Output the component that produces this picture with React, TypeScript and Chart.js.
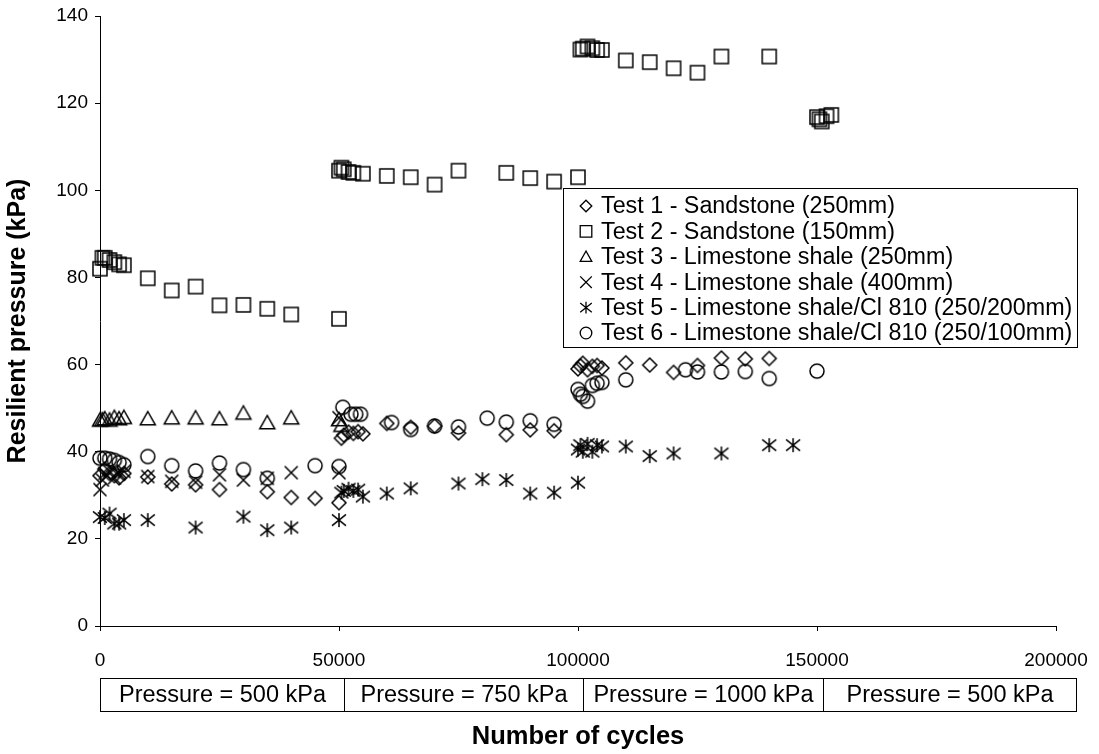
import { useEffect, useRef } from 'react';
import { Chart, registerables } from 'chart.js';

Chart.register(...registerables);

const FONT = "'Liberation Sans', Arial, Helvetica, sans-serif";

// ---------- data ----------
const seriesLabels = [
  'Test 1 - Sandstone (250mm)',
  'Test 2 - Sandstone (150mm)',
  'Test 3 - Limestone shale (250mm)',
  'Test 4 - Limestone shale (400mm)',
  'Test 5 - Limestone shale/Cl 810 (250/200mm)',
  'Test 6 - Limestone shale/Cl 810 (250/100mm)',
];

const x1 = [0, 1000, 2000, 3000, 4000, 5000, 10000, 15000, 20000, 25000, 35000, 40000, 45000, 50000, 50500, 51000, 52000, 53000, 54000, 55000, 60000, 65000, 70000, 75000, 85000, 90000, 95000, 100000, 100500, 101000, 102000, 103000, 104000, 105000, 110000, 115000, 120000, 125000, 130000, 135000, 140000];
const y1 = [34.5, 36, 35, 34.5, 34, 35, 34.2, 32.6, 32.4, 31.3, 30.8, 29.5, 29.3, 28.3, 43.1, 43.8, 44.5, 44.2, 44.6, 44.1, 46.5, 45.6, 45.9, 44.3, 43.9, 45, 44.8, 59, 59.7, 60.3, 58.8, 59.6, 59.8, 59.2, 60.4, 59.9, 58.2, 59.8, 61.5, 61.3, 61.4];

const x2 = [0, 500, 1000, 2000, 3000, 4000, 5000, 10000, 15000, 20000, 25000, 30000, 35000, 40000, 50000, 50000, 50500, 51000, 52000, 53000, 55000, 60000, 65000, 70000, 75000, 85000, 90000, 95000, 100000, 100500, 101000, 102000, 103000, 104000, 105000, 110000, 115000, 120000, 125000, 130000, 140000, 150000, 150500, 151000, 152000, 153000];
const y2 = [82, 84.5, 84.5, 84, 83.5, 83, 82.8, 79.8, 77, 77.9, 73.6, 73.7, 72.8, 71.5, 70.5, 104.5, 105.2, 104.8, 104.2, 104, 103.8, 103.3, 103, 101.3, 104.5, 104, 102.8, 102, 103, 132.3, 132.5, 133, 132.6, 132.2, 132.2, 129.8, 129.4, 128, 127, 130.7, 130.7, 116.8, 116.3, 115.8, 117, 117.3];

const x3 = [0, 500, 1000, 2000, 3000, 4000, 5000, 10000, 15000, 20000, 25000, 30000, 35000, 40000, 50000, 50500];
const y3 = [47.2, 47.3, 47.5, 47.2, 47.8, 47.5, 47.8, 47.5, 47.7, 47.7, 47.5, 48.8, 46.6, 47.7, 47.3, 46];

const x4 = [0, 500, 1000, 2000, 3000, 4000, 5000, 10000, 15000, 20000, 25000, 30000, 35000, 40000, 50000, 50000];
const y4 = [31.3, 33.5, 35, 35.5, 34, 35, 35.5, 34.3, 33.2, 33, 34.7, 33.5, 33.9, 35.2, 35.2, 47.8];

const x5 = [0, 1000, 2000, 3000, 4000, 5000, 10000, 20000, 30000, 35000, 40000, 50000, 50500, 51000, 52000, 53000, 54000, 55000, 60000, 65000, 75000, 80000, 85000, 90000, 95000, 100000, 100000, 100500, 101000, 102000, 103000, 104000, 105000, 110000, 115000, 120000, 130000, 140000, 145000];
const y5 = [25, 24.8, 25.8, 23.5, 23.5, 24.3, 24.3, 22.6, 25.1, 22.0, 22.6, 24.3, 30.6, 31, 31.5, 31, 31.3, 29.7, 30.4, 31.6, 32.7, 33.7, 33.5, 30.4, 30.6, 32.9, 40.5, 41.5, 40, 41.8, 40, 41.5, 41.2, 41.2, 39, 39.6, 39.6, 41.5, 41.5];

const x6 = [0, 1000, 2000, 3000, 4000, 5000, 10000, 15000, 20000, 25000, 30000, 35000, 45000, 50000, 50800, 52500, 53500, 54500, 61000, 65000, 70000, 75000, 81000, 85000, 90000, 95000, 100000, 100500, 101000, 102000, 103000, 104000, 105000, 110000, 122500, 125000, 130000, 135000, 140000, 150000];
const y6 = [38.5, 38.5, 38.3, 38, 37.5, 37, 38.9, 36.8, 35.6, 37.4, 35.9, 33.9, 36.8, 36.6, 50.2, 48.6, 48.6, 48.6, 46.7, 45.1, 45.9, 45.7, 47.7, 46.8, 47.1, 46.3, 54.3, 53.2, 52.7, 51.6, 55.2, 55.7, 55.9, 56.5, 58.8, 58.3, 58.3, 58.4, 56.8, 58.5];

const xSeries = [x1, x2, x3, x4, x5, x6];
const ySeries = [y1, y2, y3, y4, y5, y6];

const xMin = 0;
const xMax = 200000;
const xStep = 50000;
const yMin = 0;
const yMax = 140;
const yStep = 20;

const bandLabels = ['Pressure = 500 kPa', 'Pressure = 750 kPa', 'Pressure = 1000 kPa', 'Pressure = 500 kPa'];
const bandEdges = [0, 51000, 101000, 151300, 204200];

const xTitle = 'Number of cycles';
const yTitle = 'Resilient pressure (kPa)';

// ---------- symbols ----------
type Kind = 'diamond' | 'square' | 'triangle' | 'cross' | 'asterisk' | 'circle';
const kinds: Kind[] = ['diamond', 'square', 'triangle', 'cross', 'asterisk', 'circle'];
const markerSize = [7, 7, 7.5, 6.5, 7, 7];

function drawSymbol(ctx: CanvasRenderingContext2D, kind: Kind, cx: number, cy: number, r: number) {
  ctx.beginPath();
  switch (kind) {
    case 'diamond':
      ctx.moveTo(cx, cy - r);
      ctx.lineTo(cx + r, cy);
      ctx.lineTo(cx, cy + r);
      ctx.lineTo(cx - r, cy);
      ctx.closePath();
      break;
    case 'square':
      ctx.rect(cx - r, cy - r, 2 * r, 2 * r);
      break;
    case 'triangle':
      ctx.moveTo(cx, cy - r);
      ctx.lineTo(cx + r, cy + r * 0.78);
      ctx.lineTo(cx - r, cy + r * 0.78);
      ctx.closePath();
      break;
    case 'cross':
      ctx.moveTo(cx - r, cy - r);
      ctx.lineTo(cx + r, cy + r);
      ctx.moveTo(cx - r, cy + r);
      ctx.lineTo(cx + r, cy - r);
      break;
    case 'asterisk':
      ctx.moveTo(cx - r, cy - r * 0.8);
      ctx.lineTo(cx + r, cy + r * 0.8);
      ctx.moveTo(cx - r, cy + r * 0.8);
      ctx.lineTo(cx + r, cy - r * 0.8);
      ctx.moveTo(cx, cy - r);
      ctx.lineTo(cx, cy + r);
      break;
    case 'circle':
      ctx.arc(cx, cy, r, 0, Math.PI * 2);
      break;
  }
  ctx.stroke();
}

function makeMarker(kind: Kind, r: number): HTMLCanvasElement {
  const c = document.createElement('canvas');
  c.width = 20;
  c.height = 20;
  const g = c.getContext('2d')!;
  g.strokeStyle = '#000';
  g.lineWidth = 1.5;
  drawSymbol(g, kind, 10, 10, r);
  return c;
}

const overlayPlugin = {
  id: 'overlay',
  afterDraw(chart: any) {
    const ctx: CanvasRenderingContext2D = chart.ctx;
    const xs = chart.scales.x;
    ctx.save();
    ctx.strokeStyle = '#000';
    ctx.lineWidth = 1;
    ctx.fillStyle = '#000';
    ctx.font = `23.5px ${FONT}`;
    ctx.textAlign = 'center';
    ctx.textBaseline = 'middle';
    const top = 678.5;
    const h = 33;
    for (let i = 0; i < bandLabels.length; i++) {
      const a = Math.round(xs.getPixelForValue(bandEdges[i])) + 0.5;
      const b = Math.round(xs.getPixelForValue(bandEdges[i + 1])) + 0.5;
      ctx.strokeRect(a, top, b - a, h);
      ctx.fillText(bandLabels[i], (a + b) / 2, top + h / 2 + 1);
    }
    // legend
    const L = 563.5, T = 188.5, R = 1077.5, B = 347.5;
    ctx.fillStyle = '#fff';
    ctx.fillRect(L, T, R - L, B - T);
    ctx.strokeRect(L, T, R - L, B - T);
    ctx.textAlign = 'left';
    ctx.fillStyle = '#000';
    ctx.font = `23.3px ${FONT}`;
    chart.data.datasets.forEach((ds: any, i: number) => {
      const y = 206 + i * 25.4;
      ctx.lineWidth = 1.3;
      drawSymbol(ctx, kinds[i], 586, y, 5.8);
      ctx.fillText(ds.label, 601, y + 1);
    });
    ctx.restore();
  },
};

export default function App() {
  const ref = useRef<HTMLCanvasElement | null>(null);

  useEffect(() => {
    if (!ref.current) return;
    const datasets = seriesLabels.map((label, i) => ({
      label,
      data: xSeries[i].map((x, j) => ({ x, y: ySeries[i][j] })),
      pointStyle: makeMarker(kinds[i], markerSize[i]) as any,
      pointRadius: 7,
      showLine: false,
      clip: false as any,
      borderColor: '#000',
      backgroundColor: 'transparent',
    }));

    const chart = new Chart(ref.current, {
      type: 'scatter',
      data: { datasets },
      plugins: [overlayPlugin],
      options: {
        animation: false,
        responsive: false,
        devicePixelRatio: 1,
        layout: { padding: { left: 0, top: 16, right: 43, bottom: 0 } },
        plugins: { legend: { display: false }, tooltip: { enabled: false } },
        scales: {
          x: {
            type: 'linear',
            min: xMin,
            max: xMax,
            ticks: {
              stepSize: xStep,
              color: '#000',
              font: { family: FONT, size: 19 },
              padding: 18,
              maxRotation: 0,
              callback: (v: any) => String(v),
            },
            grid: { drawOnChartArea: false, drawTicks: true, tickLength: 5, color: '#000', lineWidth: 1 },
            border: { color: '#000', width: 1 },
            title: {
              display: true,
              text: xTitle,
              color: '#000',
              font: { family: FONT, size: 25.5, weight: 'bold' },
              padding: { top: 0, bottom: 2 },
            },
            afterFit: (s: any) => {
              s.height = 128;
              s.paddingLeft = 0;
              s.paddingRight = 0;
            },
          },
          y: {
            type: 'linear',
            min: yMin,
            max: yMax,
            ticks: {
              stepSize: yStep,
              color: '#000',
              font: { family: FONT, size: 19 },
              padding: 7,
            },
            grid: { drawOnChartArea: false, drawTicks: true, tickLength: 5, color: '#000', lineWidth: 1 },
            border: { color: '#000', width: 1 },
            title: {
              display: true,
              text: yTitle,
              color: '#000',
              font: { family: FONT, size: 25, weight: 'bold' },
              padding: { top: 3, bottom: 0 },
            },
            afterFit: (s: any) => {
              s.width = 100;
              s.paddingTop = 0;
              s.paddingBottom = 0;
            },
          },
        },
      },
    });
    return () => chart.destroy();
  }, []);

  return (
    <div style={{ position: 'fixed', left: 0, top: 0, width: 1099, height: 754, background: '#fff' }}>
      <canvas ref={ref} width={1099} height={754} style={{ display: 'block' }} />
    </div>
  );
}
